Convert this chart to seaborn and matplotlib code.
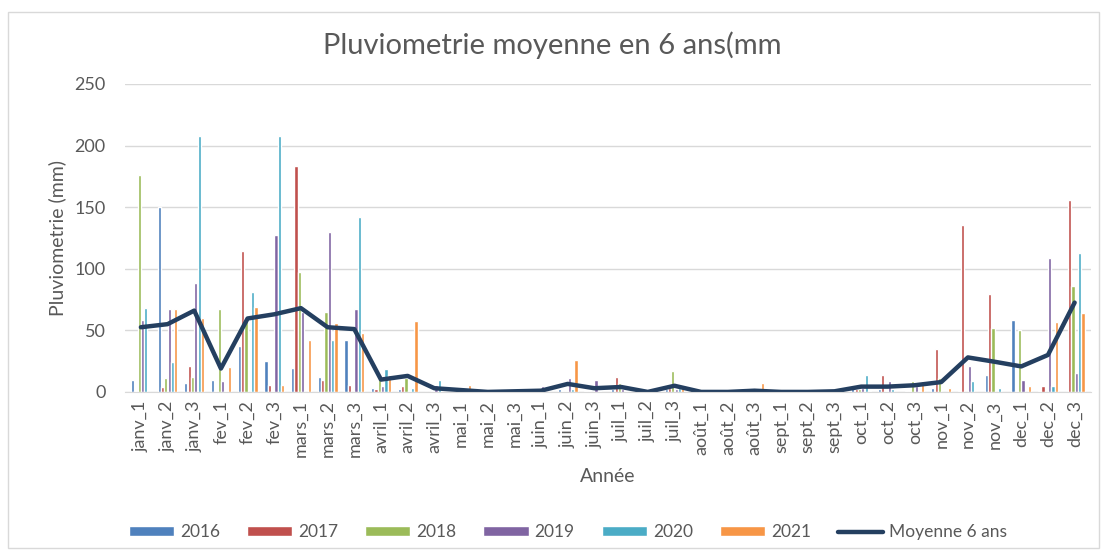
import matplotlib
matplotlib.use("Agg")
import matplotlib.pyplot as plt
import numpy as np
import pandas as pd
import seaborn as sns
from matplotlib.patches import Rectangle

# periods (decades of each month)
periodes = [
    "janv_1", "janv_2", "janv_3", "fev_1", "fev_2", "fev_3",
    "mars_1", "mars_2", "mars_3", "avril_1", "avril_2", "avril_3",
    "mai_1", "mai_2", "mai_3", "juin_1", "juin_2", "juin_3",
    "juil_1", "juil_2", "juil_3", "août_1", "août_2", "août_3",
    "sept_1", "sept_2", "sept_3", "oct_1", "oct_2", "oct_3",
    "nov_1", "nov_2", "nov_3", "dec_1", "dec_2", "dec_3",
]
annees = ["2016", "2017", "2018", "2019", "2020", "2021"]

pluie_2016 = [10, 150, 7.6, 10, 37, 24.7, 19.8, 12.5, 42, 3, 2, 0,
              0, 0, 0, 1, 2, 1, 2, 0, 2, 0, 0, 0,
              0, 0, 0, 3, 2, 1, 3, 1, 13.5, 58.5, 1, 0]
pluie_2017 = [1, 4, 21, 1, 114, 5.4, 183, 10, 6, 2, 5, 0,
              0, 0, 0, 0, 1, 1, 12, 0, 3, 0, 0, 0,
              0, 0, 0, 2, 13.5, 1, 34.7, 135.5, 79.7, 1, 5, 156]
pluie_2018 = [176, 11.4, 12.5, 67, 59, 1, 97.6, 65, 0, 14, 11, 1,
              0, 0, 0, 0, 1, 0, 7, 0, 17, 0, 0, 0,
              0, 0, 0, 2, 1, 9, 11.7, 0, 51.5, 50, 0, 85.6]
pluie_2019 = [58.5, 67, 88, 9, 0, 127, 65, 129.5, 67, 5, 1, 6,
              0, 0, 0, 5, 11.6, 10, 2, 0, 2, 0, 0, 0,
              0, 0, 0, 3, 8.7, 5, 0, 21, 0, 10, 108.4, 15]
pluie_2020 = [68.3, 24, 207.6, 1, 81, 207.6, 0, 42, 141.7, 19, 3, 10,
              0, 0, 0, 0, 2, 1, 1, 0, 3, 0, 0, 0,
              0, 0, 0, 13.5, 2, 1, 0, 9, 3, 0, 5, 113]
pluie_2021 = [0, 67, 60, 20, 68.6, 5.4, 42, 56, 47.7, 13.5, 57.7, 0,
              6, 0, 0, 0, 26, 0, 0, 0, 3, 0, 0, 7,
              0, 0, 0, 1, 0, 9, 3, 0, 0, 5, 56.4, 63.7]
moyenne_6_ans = [52.5, 55, 66, 19, 59.6, 63, 68, 52.5, 51, 10, 13, 3,
                 1.5, 0, 0.5, 1, 6.5, 3, 4, 0, 5, 0, 0, 1,
                 0, 0, 0.5, 4.3, 4.3, 5.4, 8, 28, 24.5, 20.7, 30, 72.5]

couleurs = ["#4F81BD", "#C0504D", "#9BBB59", "#8064A2", "#4BACC6", "#F79646"]
couleur_ligne = "#243F60"
gris = "#595959"

series = [pluie_2016, pluie_2017, pluie_2018, pluie_2019, pluie_2020, pluie_2021]
df = pd.DataFrame({
    "periode": periodes * len(annees),
    "annee": np.repeat(annees, len(periodes)),
    "pluie": np.concatenate(series),
})

sns.set_style("white")
plt.rcParams["font.family"] = ["Lato", "DejaVu Sans"]

fig = plt.figure(figsize=(11.05, 5.52), dpi=100)
ax = fig.add_axes([0.113, 0.290, 0.874, 0.558])

sns.barplot(
    data=df, x="periode", y="pluie", hue="annee",
    order=periodes, hue_order=annees, palette=couleurs, saturation=1,
    width=0.75, gap=0.05, errorbar=None, ax=ax, legend=True,
)
sns.lineplot(
    x=periodes, y=moyenne_6_ans, color=couleur_ligne, linewidth=3.2,
    sort=False, ax=ax, label="Moyenne 6 ans",
)

ax.set_ylim(0, 250)
ax.set_yticks([0, 50, 100, 150, 200, 250])
ax.set_xlim(-0.6, len(periodes) - 0.4)
ax.yaxis.grid(True, color="#D9D9D9", linewidth=1)
ax.set_axisbelow(True)
for side in ["top", "right", "left"]:
    ax.spines[side].set_visible(False)
ax.spines["bottom"].set_color("#D9D9D9")
ax.tick_params(axis="both", length=0, colors=gris, labelsize=13)
ax.tick_params(axis="x", rotation=90, pad=6)
ax.tick_params(axis="y", pad=14)

ax.set_xlabel("Année", fontsize=14, color=gris, labelpad=8)
ax.set_ylabel("Pluviometrie (mm)", fontsize=14, color=gris, labelpad=6)
fig.text(0.5, 0.918, "Pluviometrie moyenne en 6 ans(mm", ha="center", va="center",
         fontsize=21, color=gris)

handles, labels = ax.get_legend_handles_labels()
ax.get_legend().remove()
fig.legend(handles, labels, loc="center", bbox_to_anchor=(0.514, 0.036), ncol=7,
           frameon=False, fontsize=12.5, labelcolor=gris, handlelength=2.6,
           handleheight=0.52, columnspacing=1.55, handletextpad=0.35)

fig.patches.append(Rectangle((0.007, 0.007), 0.988, 0.971, transform=fig.transFigure,
                             fill=False, edgecolor="#D9D9D9", linewidth=1))

plt.savefig("out.png", dpi=100)
plt.close()
